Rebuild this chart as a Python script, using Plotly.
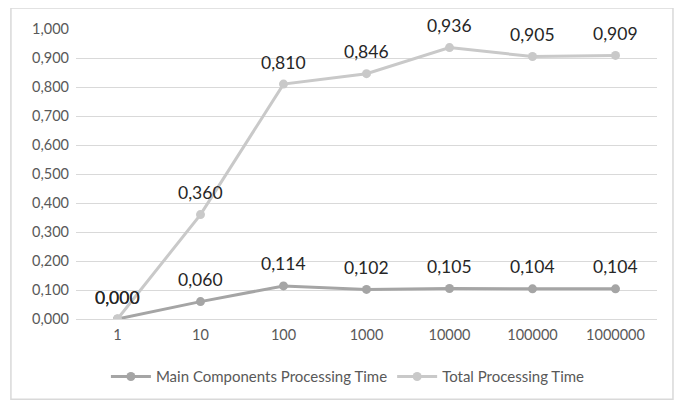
import plotly.graph_objects as go

categories = ["1", "10", "100", "1000", "10000", "100000", "1000000"]
main_times = [0.000, 0.060, 0.114, 0.102, 0.105, 0.104, 0.104]
total_times = [0.000, 0.360, 0.810, 0.846, 0.936, 0.905, 0.909]
y_ticks = [0.0, 0.1, 0.2, 0.3, 0.4, 0.5, 0.6, 0.7, 0.8, 0.9, 1.0]

FONT = "Lato, Calibri, Carlito, sans-serif"
MAIN_COLOR = "#a5a5a5"
TOTAL_COLOR = "#c9c9c9"

def fmt(v):
    return f"{v:.3f}".replace(".", ",")

xpos = list(range(len(categories)))

fig = go.Figure()
fig.add_trace(go.Scatter(
    x=xpos, y=main_times, mode="lines+markers",
    name="Main Components Processing Time",
    line=dict(color=MAIN_COLOR, width=3),
    marker=dict(color=MAIN_COLOR, size=9),
))
fig.add_trace(go.Scatter(
    x=xpos, y=total_times, mode="lines+markers",
    name="Total Processing Time",
    line=dict(color=TOTAL_COLOR, width=3),
    marker=dict(color=TOTAL_COLOR, size=9),
))

annotations = []
for series in (main_times, total_times):
    for c, v in zip(xpos, series):
        annotations.append(dict(
            x=c, y=v, xref="x", yref="y", text=fmt(v), showarrow=False,
            yshift=22, font=dict(family=FONT, size=17.5, color="#262626"),
        ))

fig.update_layout(
    width=675, height=397,
    margin=dict(l=68, r=26, t=19, b=86),
    paper_bgcolor="white", plot_bgcolor="white",
    separators=",.",
    font=dict(family=FONT, size=15, color="#595959"),
    showlegend=True,
    legend=dict(orientation="h", x=0.468, xanchor="center", y=-0.199, yanchor="middle",
                font=dict(family=FONT, size=15, color="#595959"),
                itemwidth=40, bgcolor="rgba(0,0,0,0)"),
    annotations=annotations,
    shapes=[dict(type="rect", xref="paper", yref="paper",
                 x0=-0.112, x1=1.0275, y0=-0.277, y1=1.072,
                 line=dict(color="#d9d9d9", width=1.5), layer="below")],
)
fig.update_xaxes(range=[-0.5, len(categories) - 0.5], tickvals=xpos, ticktext=categories,
                 showgrid=False, showline=False, zeroline=False,
                 ticks="", ticklabelstandoff=5,
                 tickfont=dict(family=FONT, size=14.5, color="#595959"))
fig.update_yaxes(range=[0, 1.0], tickvals=y_ticks, tickformat=".3f",
                 showgrid=True, gridcolor="#d9d9d9", gridwidth=1,
                 zeroline=True, zerolinecolor="#d9d9d9", zerolinewidth=1,
                 showline=False, ticks="", ticklen=0, ticklabelstandoff=6,
                 tickfont=dict(family=FONT, size=14.5, color="#595959"))

fig.write_html("out.html")
